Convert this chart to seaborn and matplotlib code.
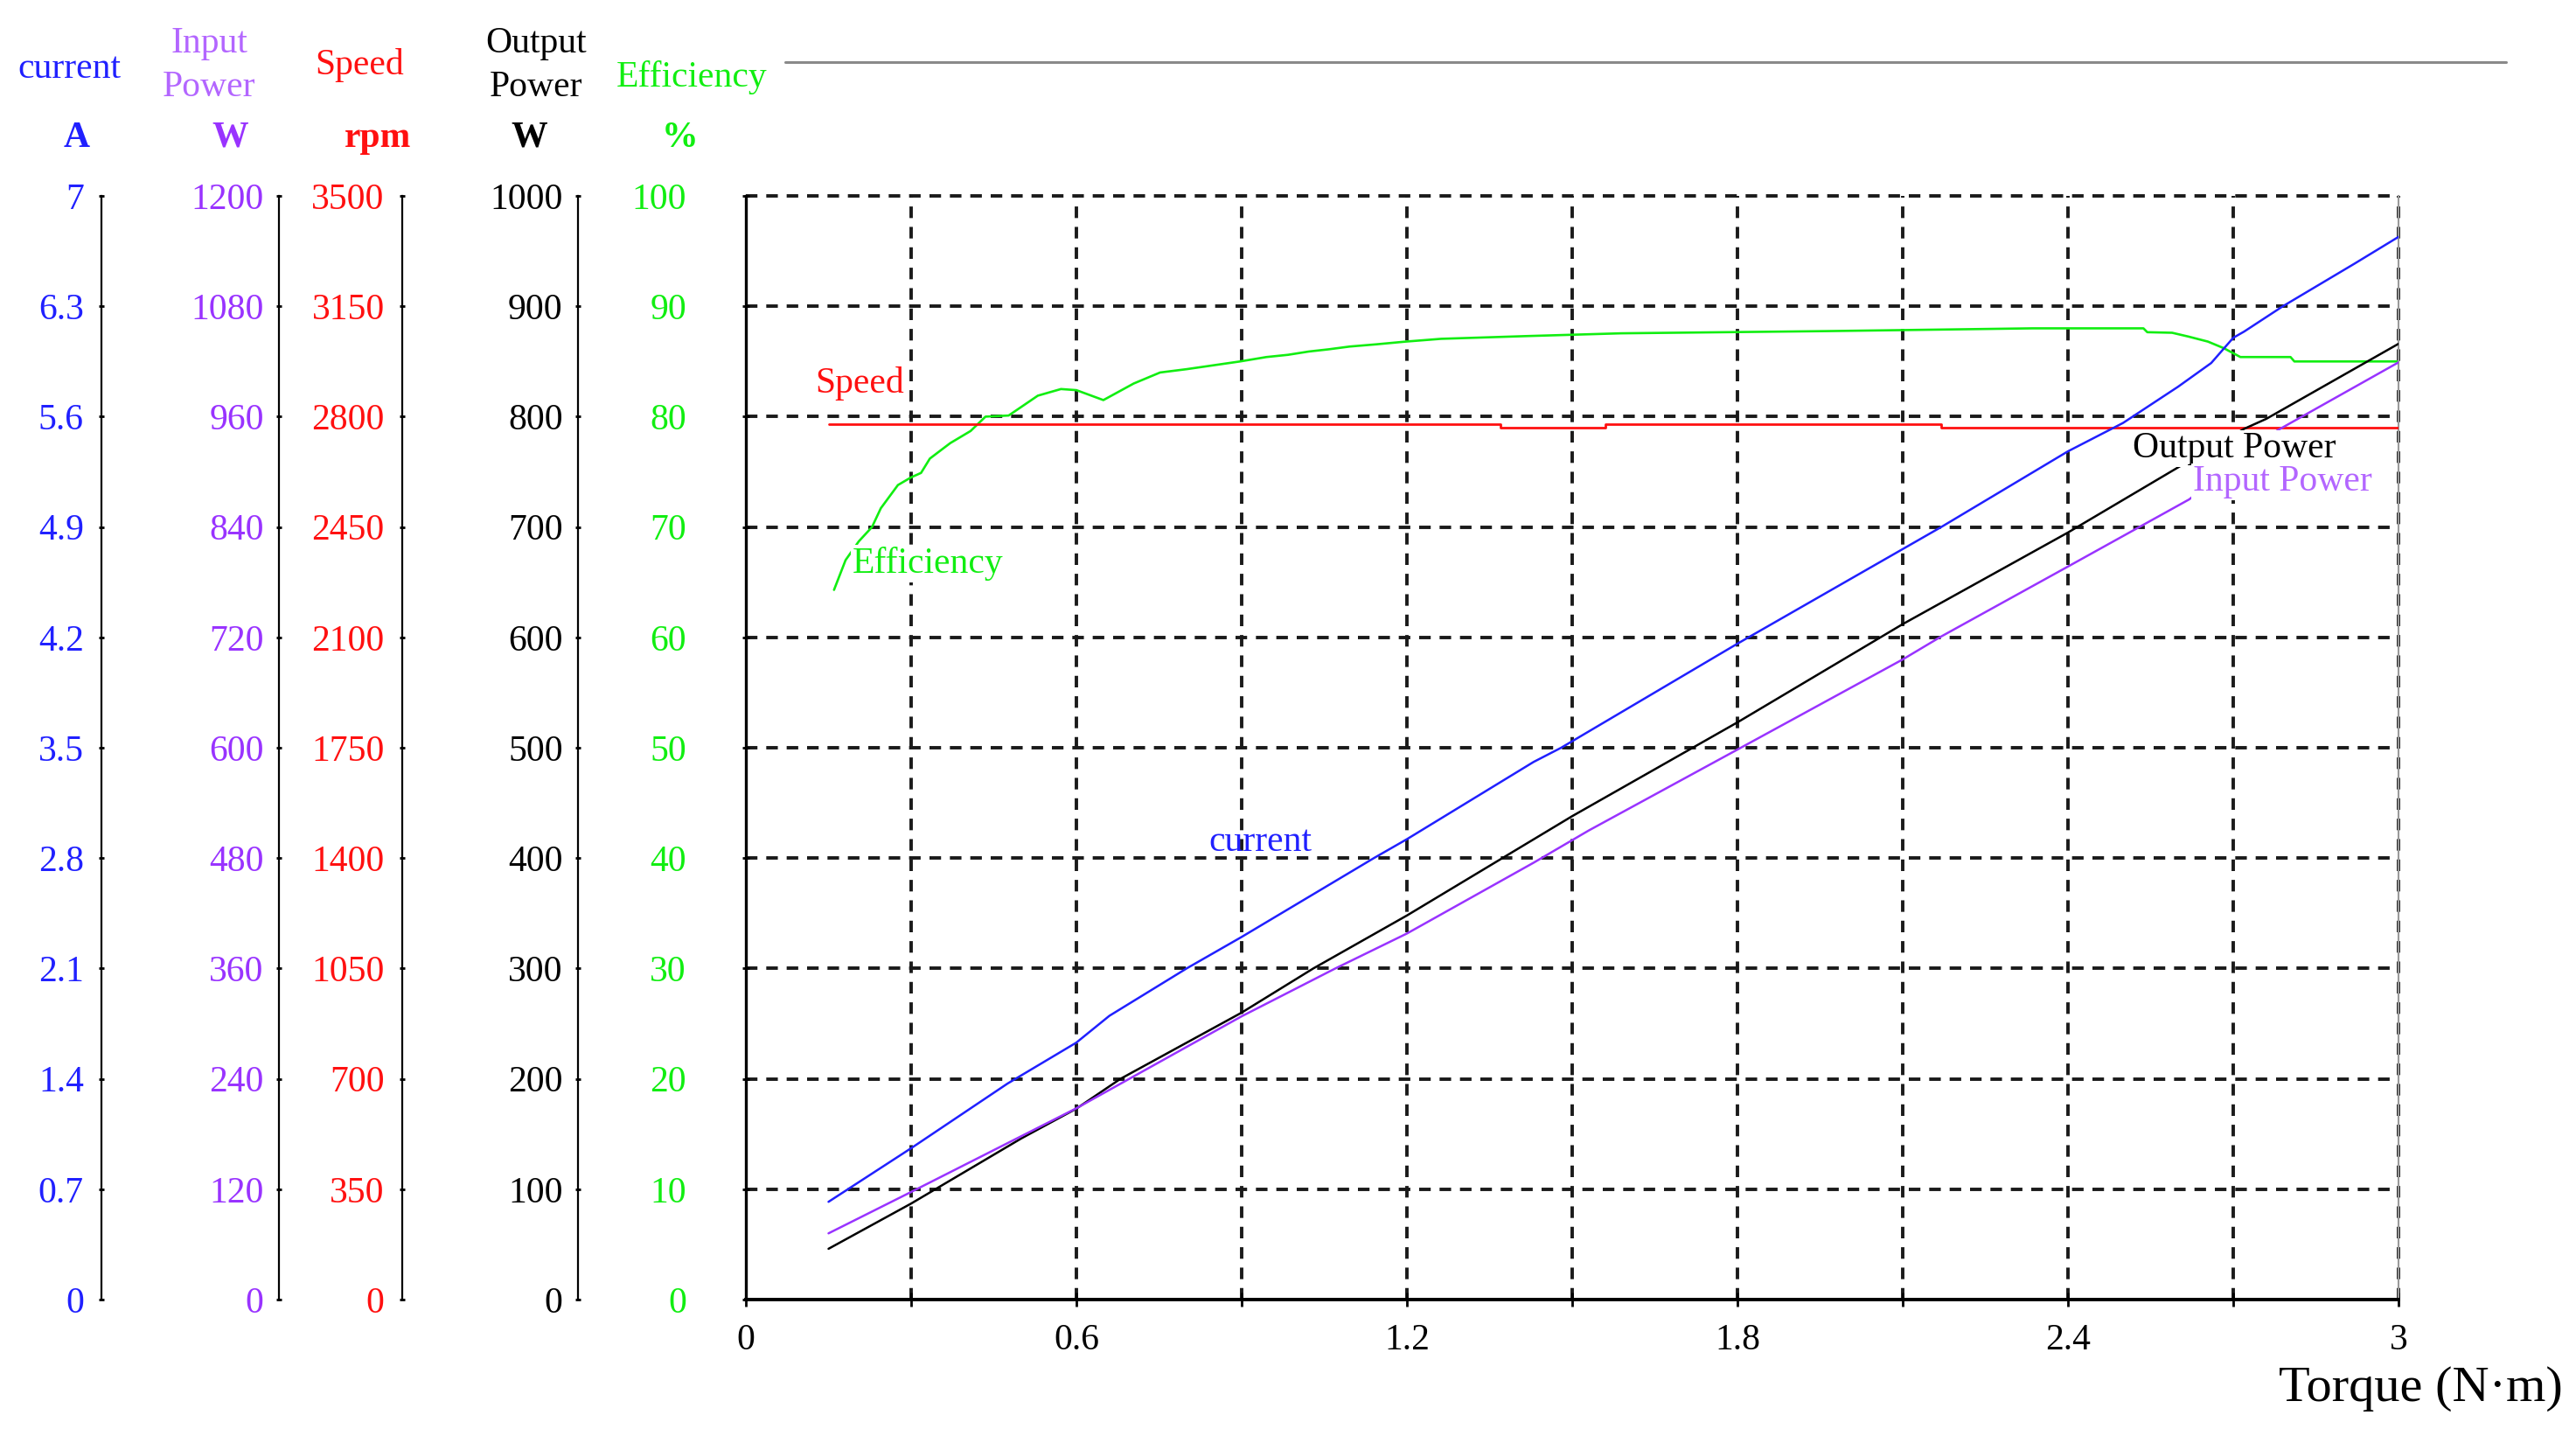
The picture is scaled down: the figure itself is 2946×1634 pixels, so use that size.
import numpy as np
import matplotlib
matplotlib.use("Agg")
import matplotlib.pyplot as plt
from matplotlib.lines import Line2D
import seaborn as sns

# ---- data ----
cur_torque = [0.15, 0.30, 0.475, 0.60, 0.66, 0.80, 0.90, 1.14, 1.20, 1.43, 1.48, 1.80,
              2.10, 2.17, 2.40, 2.50, 2.60, 2.66, 2.70, 2.72, 2.79, 2.92, 3.00]
current = [0.62, 0.96, 1.37, 1.63, 1.80, 2.10, 2.30, 2.80, 2.92, 3.41, 3.50, 4.16,
           4.76, 4.90, 5.38, 5.56, 5.79, 5.94, 6.10, 6.14, 6.30, 6.57, 6.74]

out_torque = [0.15, 0.30, 0.50, 0.60, 0.68, 0.90, 1.03, 1.20, 1.43, 1.50, 1.80, 2.10,
              2.40, 2.61, 2.72, 2.76, 3.00]
output_power = [46, 87, 146, 173, 200, 260, 300, 348, 417, 438, 523, 612,
                695, 757, 789, 798, 866]

in_torque = [0.15, 0.30, 0.60, 0.90, 1.07, 1.20, 1.43, 1.53, 1.80, 2.10, 2.17, 2.40,
             2.62, 2.78, 3.00]
input_power = [72, 117, 208, 308, 360, 398, 475, 510, 598, 696, 721, 797,
               870, 945, 1019]

spd_torque = [0.15, 1.37, 1.37, 1.56, 1.56, 2.17, 2.17, 3.00]
speed = [2775, 2775, 2766, 2766, 2775, 2775, 2766, 2766]

eff_torque = [0.16, 0.181, 0.205, 0.229, 0.245, 0.276, 0.30, 0.318, 0.334, 0.371, 0.408,
              0.435, 0.477, 0.53, 0.572, 0.60, 0.649, 0.704, 0.752, 0.80, 0.897, 0.945,
              0.984, 1.022, 1.058, 1.096, 1.144, 1.198, 1.262, 1.418, 1.589, 1.964, 2.335,
              2.537, 2.544, 2.589, 2.619, 2.654, 2.683, 2.713, 2.804, 2.811, 3.00]
efficiency = [64.3, 67.0, 68.7, 70.0, 71.7, 73.8, 74.5, 74.9, 76.2, 77.6, 78.7,
              80.0, 80.1, 81.9, 82.5, 82.4, 81.5, 83.0, 84.0, 84.3, 85.0, 85.4,
              85.6, 85.9, 86.1, 86.35, 86.55, 86.8, 87.05, 87.3, 87.55, 87.75, 88.0,
              88.0, 87.65, 87.6, 87.25, 86.8, 86.2, 85.4, 85.4, 85.0, 85.0]

x_ticks = [0, 0.3, 0.6, 0.9, 1.2, 1.5, 1.8, 2.1, 2.4, 2.7, 3.0]
x_labels = ["0", "", "0.6", "", "1.2", "", "1.8", "", "2.4", "", "3"]

cur_ticks = [0, 0.7, 1.4, 2.1, 2.8, 3.5, 4.2, 4.9, 5.6, 6.3, 7]
cur_labels = ["0", "0.7", "1.4", "2.1", "2.8", "3.5", "4.2", "4.9", "5.6", "6.3", "7"]
in_ticks = [0, 120, 240, 360, 480, 600, 720, 840, 960, 1080, 1200]
spd_ticks = [0, 350, 700, 1050, 1400, 1750, 2100, 2450, 2800, 3150, 3500]
out_ticks = [0, 100, 200, 300, 400, 500, 600, 700, 800, 900, 1000]
eff_ticks = [0, 10, 20, 30, 40, 50, 60, 70, 80, 90, 100]

# colours
C_CUR = "#2020ff"
C_IN = "#9933ff"
C_IN_TXT = "#b366ff"
C_SPD = "#ff1010"
C_OUT = "#000000"
C_EFF = "#11ee11"

sns.set_style("white")
plt.rcParams["font.family"] = ["Liberation Serif", "DejaVu Serif"]
FS = 30

W, H = 2946, 1634
fig = plt.figure(figsize=(W / 100, H / 100), dpi=100)
ax = fig.add_axes([853 / W, 1 - 1486 / H, (2743 - 853) / W, (1486 - 224) / H])

# main axes = efficiency
ax.set_xlim(0, 3)
ax.set_ylim(0, 100)
ax.set_xticks(x_ticks)
ax.set_xticklabels(x_labels)
ax.set_yticks(eff_ticks)
ax.set_yticklabels([str(v) for v in eff_ticks])
ax.grid(True, color="#1a1a1a", linestyle=(0, (3.4, 2.6)), linewidth=2.8)
for gl in ax.get_xgridlines() + ax.get_ygridlines():
    gl.set_clip_on(False)
# the zero gridlines sit under the solid spines
ax.get_xgridlines()[0].set_visible(False)
ax.get_ygridlines()[0].set_visible(False)
ax.tick_params(axis="y", color="black", labelcolor=C_EFF, direction="inout",
               length=6, width=2, pad=46, labelsize=FS, left=True)
ax.tick_params(axis="x", color="black", labelcolor="black", direction="inout",
               length=12, width=2, pad=14, labelsize=FS, bottom=True)
ax.spines["top"].set_visible(False)
ax.spines["right"].set_color("#999999")
ax.spines["right"].set_linewidth(1.5)
ax.spines["left"].set_color("black")
ax.spines["left"].set_linewidth(2.4)
ax.spines["bottom"].set_color("black")
ax.spines["bottom"].set_linewidth(2.8)
sns.lineplot(x=eff_torque, y=efficiency, ax=ax, color=C_EFF, linewidth=1.9,
             estimator=None, sort=False)
ax.set_xlabel("")
ax.set_ylabel("")


def make_axis(pos, ylim, ticks, labels, color, pad):
    a = ax.twinx()
    a.set_ylim(*ylim)
    a.set_yticks(ticks)
    a.set_yticklabels(labels)
    a.yaxis.set_ticks_position("left")
    for s in ["top", "right", "bottom"]:
        a.spines[s].set_visible(False)
    a.spines["left"].set_visible(True)
    a.spines["left"].set_position(("axes", pos))
    a.spines["left"].set_color("black")
    a.spines["left"].set_linewidth(1.6)
    a.tick_params(axis="y", color="black", labelcolor=color, direction="inout",
                  length=5, width=2, pad=pad, labelsize=FS, left=True, right=False)
    a.grid(False)
    return a


ax_spd = make_axis(-0.208, (0, 3500), spd_ticks, [str(v) for v in spd_ticks], C_SPD, 12)
ax_cur = make_axis(-0.390, (0, 7), cur_ticks, cur_labels, C_CUR, 12)
ax_out = make_axis(-0.1016, (0, 1000), out_ticks, [str(v) for v in out_ticks], C_OUT, 10)
ax_in = make_axis(-0.2825, (0, 1200), in_ticks, [str(v) for v in in_ticks], C_IN, 10)

sns.lineplot(x=spd_torque, y=speed, ax=ax_spd, color=C_SPD, linewidth=2.0,
             estimator=None, sort=False)
sns.lineplot(x=cur_torque, y=current, ax=ax_cur, color=C_CUR, linewidth=1.8,
             estimator=None, sort=False)
sns.lineplot(x=out_torque, y=output_power, ax=ax_out, color=C_OUT, linewidth=1.8,
             estimator=None, sort=False)
sns.lineplot(x=in_torque, y=input_power, ax=ax_in, color=C_IN, linewidth=1.8,
             estimator=None, sort=False)
for a in [ax_spd, ax_cur, ax_out, ax_in]:
    a.set_xlim(0, 3)
    a.set_ylabel("")

# curve labels (placed in torque / efficiency coordinates, on the top axes)
box = dict(facecolor="white", edgecolor="none", pad=1.5)
ax_in.text(0.206, 83.0, "Speed", transform=ax.transData, color=C_SPD, fontsize=FS,
           ha="center", va="center")
ax_in.text(0.331, 66.7, "Efficiency", transform=ax.transData, color=C_EFF, fontsize=FS,
           ha="center", va="center", bbox=box)
ax_in.text(0.934, 41.5, "current", transform=ax.transData, color=C_CUR, fontsize=FS,
           ha="center", va="center")
ax_in.text(2.702, 77.1, "Output Power", transform=ax.transData, color=C_OUT, fontsize=FS,
           ha="center", va="center", bbox=box)
ax_in.text(2.789, 74.1, "Input Power", transform=ax.transData, color=C_IN_TXT, fontsize=FS,
           ha="center", va="center", bbox=box)


# axis headers
def ftext(x, y, s, color, **kw):
    fig.text(x / W, 1 - y / H, s, color=color, fontsize=FS, ha="center", va="center", **kw)


ftext(79, 79, "current", C_CUR)
ftext(239, 75, "Input\nPower", C_IN_TXT, linespacing=1.4)
ftext(411, 75, "Speed", C_SPD)
ftext(613, 75, "Output\nPower", C_OUT, linespacing=1.4)
ftext(791, 88, "Efficiency", C_EFF)
ftext(88, 158, "A", C_CUR, fontweight="bold")
ftext(263, 158, "W", C_IN, fontweight="bold")
ftext(432, 158, "rpm", C_SPD, fontweight="bold")
ftext(605, 158, "W", C_OUT, fontweight="bold")
ftext(778, 158, "%", C_EFF, fontweight="bold")

fig.text(2931 / W, 1 - 1588 / H, "Torque (N\u00b7m)", color="black", fontsize=42,
         ha="right", va="center")

fig.add_artist(Line2D([898 / W, 2866 / W], [1 - 71 / H, 1 - 71 / H],
                      transform=fig.transFigure, color="#8a8a8a", linewidth=2.2))

fig.savefig("out.png", dpi=100)
